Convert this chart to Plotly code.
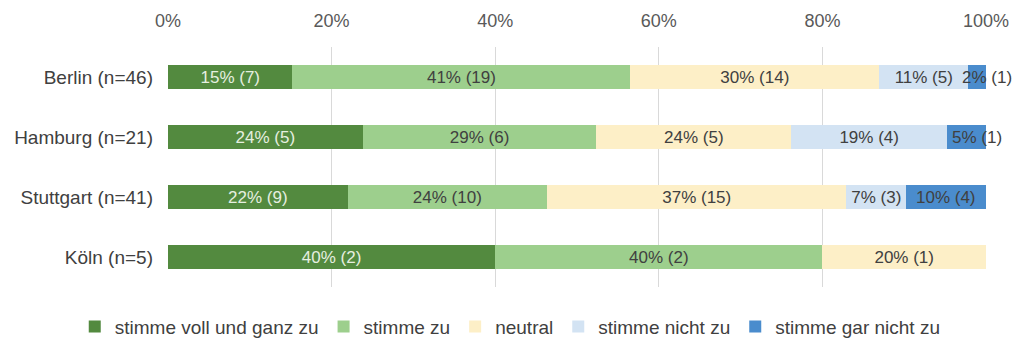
import plotly.graph_objects as go

cities = ["Berlin", "Hamburg", "Stuttgart", "Köln"]
n_total = [46, 21, 41, 5]
series_names = ["stimme voll und ganz zu", "stimme zu", "neutral", "stimme nicht zu", "stimme gar nicht zu"]
voll = [7, 5, 9, 2]
zu = [19, 6, 10, 2]
neutral = [14, 5, 15, 1]
nicht = [5, 4, 3, 0]
gar_nicht = [1, 1, 4, 0]
tick_vals = [0, 20, 40, 60, 80, 100]
tick_text = ["0%", "20%", "40%", "60%", "80%", "100%"]

colors = ["#538a3f", "#9dcf8d", "#fdefc7", "#d3e3f3", "#4a8ccd"]
text_colors = ["#e6efe0", "#404040", "#404040", "#404040", "#404040"]
FONT = "Liberation Sans, Arial, sans-serif"

labels = [f"{c} (n={n})" for c, n in zip(cities, n_total)]
all_series = [voll, zu, neutral, nicht, gar_nicht]
fig = go.Figure()
cum = [0.0] * len(cities)
annotations = []
for idx, (name, counts, col, tcol) in enumerate(zip(series_names, all_series, colors, text_colors)):
    pct = [c / n * 100 for c, n in zip(counts, n_total)]
    txt = [f"{round(p)}% ({c})" if c > 0 else "" for p, c in zip(pct, counts)]
    last = idx == len(series_names) - 1
    fig.add_trace(go.Bar(
        y=labels, x=pct, name=name, orientation="h",
        marker=dict(color=col, line=dict(width=0)),
        text=None if last else txt,
        textposition="none" if last else "inside", insidetextanchor="middle",
        textangle=0, constraintext="none", cliponaxis=False,
        textfont=dict(family=FONT, size=17, color=tcol),
        width=0.4,
    ))
    if last:
        for lab, base, p, t in zip(labels, cum, pct, txt):
            if t:
                narrow = p < 6
                annotations.append(dict(
                    x=base + p / 2, y=lab, xref="x", yref="y", text=t, showarrow=False,
                    xshift=10 if narrow else 0,
                    font=dict(family=FONT, size=17, color=tcol)))
    cum = [a + b for a, b in zip(cum, pct)]

fig.update_layout(
    barmode="stack",
    width=1034, height=344,
    margin=dict(l=168, r=48, t=47, b=57, autoexpand=False),
    paper_bgcolor="white", plot_bgcolor="white",
    font=dict(family=FONT, size=19, color="#404040"),
    annotations=annotations,
    xaxis=dict(range=[0, 100], side="top", tickvals=tick_vals, ticktext=tick_text,
               showgrid=True, gridcolor="#d9d9d9", gridwidth=1, zeroline=False,
               showline=False, ticks="", tickfont=dict(size=18, color="#595959"),
               ticklabelstandoff=15, fixedrange=True, automargin=False),
    yaxis=dict(autorange="reversed", categoryorder="array", categoryarray=labels,
               showgrid=False, zeroline=False, showline=False, ticks="",
               tickfont=dict(size=19, color="#404040"), ticklabelstandoff=14,
               automargin=False),
    legend=dict(orientation="h", x=-0.114, xanchor="left",
                y=-0.165, yanchor="middle", font=dict(size=19, color="#404040"),
                traceorder="normal", itemwidth=30),
    bargap=0.6,
)
fig.write_html("out.html")
